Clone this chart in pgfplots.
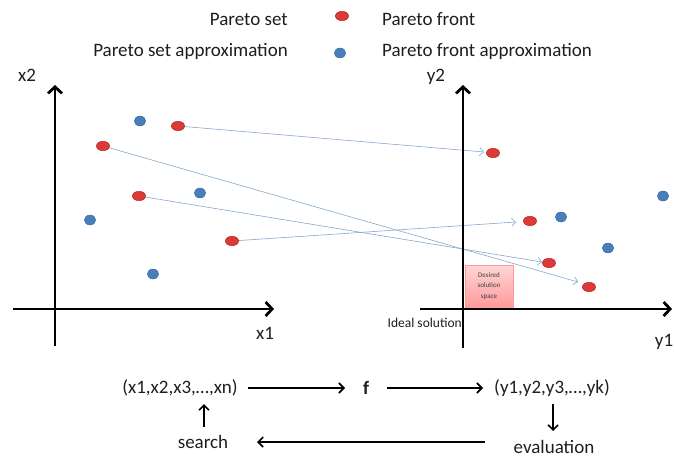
\documentclass[border=0pt]{standalone}
\usepackage{pgfplots}
\pgfplotsset{compat=1.18}
\usepackage{fontspec}
\setmainfont{Carlito}
\usetikzlibrary{arrows.meta}
\definecolor{ptred}{HTML}{DC3A36}
\definecolor{ptrededge}{HTML}{B42A28}
\definecolor{ptblue}{HTML}{4A7EBB}
\definecolor{ptblueedge}{HTML}{3A68A0}
\definecolor{arrowblue}{HTML}{86A8CC}
\definecolor{txt}{HTML}{1E1E1E}
\begin{document}
\begin{tikzpicture}
\begin{axis}[
  width=674bp, height=457bp, scale only axis,
  xmin=0, xmax=674, ymin=0, ymax=457, y dir=reverse,
  hide axis, clip=false,
]
% desired solution space box
\addplot[draw=red!40, line width=0.5bp, top color=red!16, bottom color=red!40] coordinates {(465,265) (513,265) (513,308) (465,308)} -- cycle;

% mapping arrows (Pareto set -> Pareto front)
\addplot[arrowblue, line width=0.6bp, -{Straight Barb[length=4bp,width=8bp]}] coordinates {(178,126) (484,152)};
\addplot[arrowblue, line width=0.6bp, -{Straight Barb[length=4bp,width=8bp]}] coordinates {(103,146) (578,282)};
\addplot[arrowblue, line width=0.6bp, -{Straight Barb[length=4bp,width=8bp]}] coordinates {(139,196) (542,262)};
\addplot[arrowblue, line width=0.6bp, -{Straight Barb[length=4bp,width=8bp]}] coordinates {(232,241) (516,222)};

% coordinate axes
\addplot[black, line width=2.8bp, -{Straight Barb[length=6.5bp,width=14bp]}] coordinates {(55,346) (55,85)};
\addplot[black, line width=2.8bp, -{Straight Barb[length=6.5bp,width=14bp]}] coordinates {(13,309) (274,309)};
\addplot[black, line width=2.8bp, -{Straight Barb[length=6.5bp,width=14bp]}] coordinates {(463,348) (463,85)};
\addplot[black, line width=2.8bp, -{Straight Barb[length=6.5bp,width=14bp]}] coordinates {(420,309) (672,309)};

% Pareto set (red, decision space) and Pareto front (red, objective space)
\addplot[only marks, mark=*, mark size=4.7bp, mark options={fill=ptred, draw=ptrededge, line width=0.5bp, xscale=1.4}] coordinates {
  (178,126) (103,146) (139,196) (232,241)
  (493,153) (530,221) (549,263) (589,287)
  (342,16)};
% approximations (blue)
\addplot[only marks, mark=*, mark size=5bp, mark options={fill=ptblue, draw=ptblueedge, line width=0.4bp, xscale=1.15}] coordinates {
  (140,121) (200,193) (90,220) (153,274)
  (561,217) (608,248) (663,196)
  (340,53)};

% bottom flow arrows
\addplot[black, line width=1.6bp, -{Straight Barb[length=5bp,width=10bp]}] coordinates {(248,388) (345,388)};
\addplot[black, line width=1.6bp, -{Straight Barb[length=5bp,width=10bp]}] coordinates {(387,388) (483,388)};
\addplot[black, line width=1.6bp, -{Straight Barb[length=5bp,width=10bp]}] coordinates {(204,427) (204,404)};
\addplot[black, line width=1.6bp, -{Straight Barb[length=5bp,width=10bp]}] coordinates {(553,404) (553,431)};
\addplot[black, line width=1.6bp, -{Straight Barb[length=5bp,width=10bp]}] coordinates {(485,442) (257,442)};

% texts
\begin{scope}[every node/.style={text=txt, font=\fontsize{19bp}{22bp}\selectfont, inner sep=0pt}]
\node[anchor=east] at (axis cs:288,19) {Pareto set};
\node[anchor=east] at (axis cs:288,51) {Pareto set approximation};
\node[anchor=west] at (axis cs:382,19) {Pareto front};
\node[anchor=west] at (axis cs:382,51) {Pareto front approximation};
\node at (axis cs:27,75) {x2};
\node at (axis cs:265,333) {x1};
\node at (axis cs:436,77) {y2};
\node at (axis cs:664,342) {y1};
\node at (axis cs:180,388) {(x1,x2,x3,…,xn)};
\node at (axis cs:366,388) {\bfseries f};
\node at (axis cs:552,388) {(y1,y2,y3,…,yk)};
\node at (axis cs:203,442) {search};
\node at (axis cs:554,447) {evaluation};
\node[anchor=east, font=\fontsize{13.5bp}{15bp}\selectfont] at (axis cs:462,323) {Ideal solution};
\node[align=center, font=\fontsize{7bp}{10.5bp}\selectfont, text=black!75] at (axis cs:489,286) {Desired\\solution\\space};
\end{scope}
\end{axis}
\pgfresetboundingbox
\path (current axis.south west) rectangle (current axis.north east);
\end{tikzpicture}
\end{document}
